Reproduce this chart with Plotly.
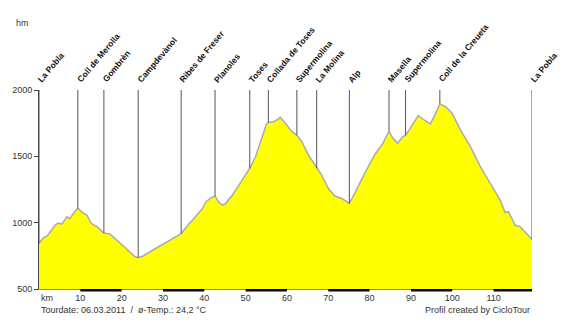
import plotly.graph_objects as go

# Elevation profile of the tour (distance in km, altitude in m)
km = [0.0, 0.6, 1.2, 2.0, 2.6, 3.2, 4.0, 4.6, 5.6, 6.2, 6.8, 7.4, 8.0, 8.8, 9.4,
      10.2, 10.8, 11.6, 12.6, 14.0, 15.0, 15.7, 17.2, 18.8, 20.4, 22.0, 23.2, 24.0,
      25.2, 27.6, 30.0, 32.4, 34.4, 36.4, 37.2, 39.6, 40.4, 41.8, 42.6, 43.6, 44.4,
      45.2, 46.8, 49.2, 51.0, 52.4, 54.0, 55.0, 55.5, 56.8, 57.6, 58.4, 59.6, 61.2,
      62.4, 63.6, 65.2, 67.2, 68.4, 70.0, 71.6, 73.2, 74.0, 75.1, 76.4, 78.8, 81.2,
      83.2, 84.7, 85.6, 86.8, 88.0, 88.7, 90.0, 91.8, 93.2, 94.7, 95.6, 97.0, 98.4,
      100.0, 102.0, 104.4, 106.8, 109.2, 111.6, 112.8, 113.6, 115.2, 116.4, 119.3]
elev = [845, 870, 890, 900, 925, 957, 985, 995, 990, 1020, 1045, 1030, 1058, 1090, 1108,
        1085, 1070, 1058, 995, 970, 940, 922, 915, 869, 819, 774, 745, 735,
        749, 794, 839, 882, 918, 995, 1020, 1108, 1158, 1190, 1200, 1151, 1133,
        1146, 1209, 1322, 1410, 1497, 1648, 1740, 1755, 1761, 1775, 1794, 1749, 1686,
        1660, 1610, 1510, 1410, 1359, 1259, 1201, 1184, 1165, 1145, 1221, 1372, 1510,
        1598, 1688, 1640, 1598, 1648, 1658, 1724, 1807, 1774, 1744, 1799, 1895, 1874,
        1824, 1698, 1573, 1422, 1297, 1171, 1076, 1083, 982, 970, 875]

# Waypoints along the route
places = ["La Pobla", "Coll de Merolla", "Gombrèn", "Campdevànol", "Ribes de Freser",
          "Planoles", "Toses", "Collada de Toses", "Supermolina", "La Molina", "Alp",
          "Masella", "Supermolina", "Coll de la Creueta", "La Pobla"]
place_km = [0.0, 9.4, 15.7, 24.0, 34.4, 42.6, 51.0, 55.5, 62.4, 67.2, 75.1,
            84.7, 88.7, 97.0, 119.3]
place_elev = [845, 1108, 922, 735, 918, 1200, 1410, 1755, 1660, 1410, 1145,
              1688, 1658, 1895, 875]

y_ticks = [500, 1000, 1500, 2000]
x_ticks = [10, 20, 30, 40, 50, 60, 70, 80, 90, 100, 110]
km_total = 119.3
y_min, y_max = 500, 2000

FONT = "Liberation Sans, Arial, sans-serif"

fig = go.Figure()
fig.add_trace(go.Scatter(
    x=km, y=elev, mode="lines", fill="tozeroy",
    fillcolor="#FFFF00", line=dict(color="#ABABAB", width=1.5),
    hoverinfo="skip", showlegend=False,
))

shapes = []
annotations = []

# Marker lines from the top of the scale down to the profile, with slanted names
for name, xk, ye in zip(places, place_km, place_elev):
    shapes.append(dict(type="line", xref="x", yref="y", x0=xk, x1=xk, y0=ye, y1=y_max,
                       line=dict(color="#555555", width=1)))
    annotations.append(dict(x=xk, y=y_max, xref="x", yref="y", text=f"<b>{name}</b>",
                            textangle=-50, showarrow=False, xanchor="left",
                            yanchor="bottom", xshift=-6, yshift=3,
                            font=dict(family=FONT, size=8.5, color="#111111")))

# Alternating 10 km scale bar along the distance axis
for start in range(10, 120, 20):
    shapes.append(dict(type="rect", xref="x", yref="paper",
                       x0=start, x1=min(start + 10, km_total),
                       y0=-0.012, y1=0.0, line=dict(width=0),
                       fillcolor="#000000", layer="above"))

annotations += [
    dict(text="hm", xref="paper", yref="paper", x=-0.034, y=1.337,
         showarrow=False, xanchor="center", yanchor="middle",
         font=dict(family=FONT, size=9, color="#333333")),
    dict(text="km", xref="paper", yref="paper", x=0.0, y=-0.045,
         showarrow=False, xanchor="left", yanchor="middle",
         font=dict(family=FONT, size=9, color="#333333")),
    dict(text="Tourdate: 06.03.2011  /  ø-Temp.: 24,2 °C", xref="paper", yref="paper",
         x=0.0, y=-0.105, showarrow=False, xanchor="left", yanchor="middle",
         font=dict(family=FONT, size=9, color="#333333")),
    dict(text="Profil created by CicloTour", xref="paper", yref="paper",
         x=1.0, y=-0.105, showarrow=False, xanchor="right", yanchor="middle",
         font=dict(family=FONT, size=9, color="#333333")),
]

fig.update_layout(
    width=582, height=331,
    margin=dict(l=35, r=50, t=90, b=42),
    paper_bgcolor="white", plot_bgcolor="white",
    shapes=shapes, annotations=annotations,
    xaxis=dict(range=[0, km_total], tickvals=x_ticks, ticks="", showgrid=False,
               zeroline=False, showline=True, linecolor="#888888", linewidth=1,
               tickfont=dict(family=FONT, size=9, color="#333333")),
    yaxis=dict(range=[y_min, y_max], tickvals=y_ticks, ticks="outside", ticklen=4,
               tickcolor="#444444", showgrid=False, zeroline=False, showline=True,
               linecolor="#444444", linewidth=1,
               tickfont=dict(family=FONT, size=9, color="#333333")),
)

fig.write_html("out.html")
